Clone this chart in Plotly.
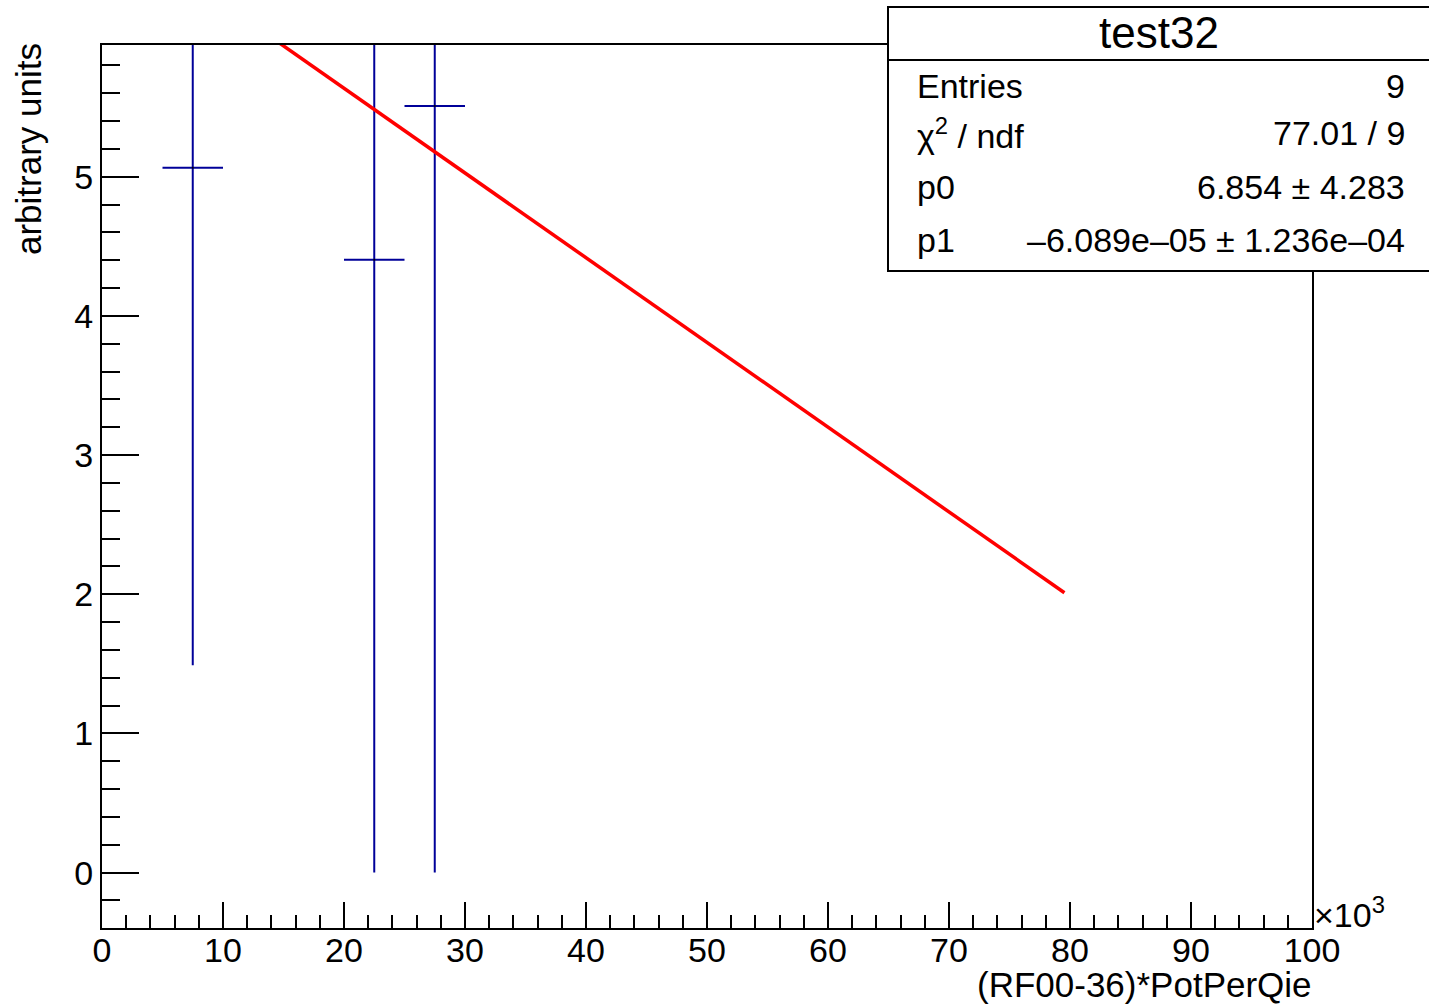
import plotly.graph_objects as go

# ---- data ----
bin_centers = [7500, 22500, 27500]
bin_halfwidth = [2500, 2500, 2500]
values = [5.065, 4.404, 5.509]
errors = [3.575, 4.404, 5.509]

fit_x = [0, 79540]
fit_y = [6.854, 2.011]

x_tickvals = [0, 10000, 20000, 30000, 40000, 50000, 60000, 70000, 80000, 90000, 100000]
x_ticktext = ["0", "10", "20", "30", "40", "50", "60", "70", "80", "90", "100"]
y_tickvals = [0, 1, 2, 3, 4, 5]
y_ticktext = ["0", "1", "2", "3", "4", "5"]

stats_title = "test32"
stats_labels = ["Entries", "χ<sup>2</sup> / ndf", "p0", "p1"]
stats_values = ["9", "77.01 / 9", "6.854 ± 4.283", "–6.089e–05 ± 1.236e–04"]

# ---- geometry (pixels) ----
W, H = 1429, 1007
L, R, T, B = 102, 117, 45, 79
PW, PH = W - L - R, H - T - B

def px(x):
    return (x - L) / PW

def py(y):
    return (H - B - y) / PH

FONT = "Liberation Sans, Arial, Helvetica, sans-serif"
BLUE = "#000099"

fig = go.Figure()

fig.add_trace(go.Scatter(
    x=bin_centers, y=values, mode="markers",
    marker=dict(size=2, color="black"),
    error_y=dict(type="data", array=errors, arrayminus=errors, symmetric=False,
                 width=0, thickness=2, color=BLUE),
    error_x=dict(type="data", array=bin_halfwidth, width=0, thickness=2, color=BLUE),
    showlegend=False, hoverinfo="skip",
))

fig.add_trace(go.Scatter(
    x=fit_x, y=fit_y, mode="lines",
    line=dict(color="#ff0000", width=3.5),
    showlegend=False, hoverinfo="skip",
))

axis_common = dict(
    showgrid=False, zeroline=False, showline=True, mirror=True,
    linecolor="black", linewidth=2, ticks="inside", tickcolor="black",
    tickwidth=1.5, tickfont=dict(family=FONT, size=34, color="black"),
)

fig.update_xaxes(
    range=[0, 100000], tickvals=x_tickvals, ticktext=x_ticktext, ticklen=26,
    ticklabelstandoff=-9,
    minor=dict(ticks="inside", ticklen=13, dtick=2000, tick0=0, tickcolor="black",
               tickwidth=1.5, showgrid=False),
    **axis_common,
)
fig.update_yaxes(
    range=[-0.398, 5.947], tickvals=y_tickvals, ticktext=y_ticktext, ticklen=37,
    minor=dict(ticks="inside", ticklen=18, dtick=0.2, tick0=0, tickcolor="black",
               tickwidth=1.5, showgrid=False),
    **axis_common,
)

shapes = [
    dict(type="rect", xref="paper", yref="paper",
         x0=px(888), x1=px(1432), y0=py(271), y1=py(7),
         line=dict(color="black", width=2), fillcolor="white", layer="above"),
    dict(type="line", xref="paper", yref="paper",
         x0=px(888), x1=px(1432), y0=py(60), y1=py(60),
         line=dict(color="black", width=2), layer="above"),
]

annotations = [
    dict(text=stats_title, x=px(1159), y=py(33), xref="paper", yref="paper",
         xanchor="center", yanchor="middle", showarrow=False,
         font=dict(family=FONT, size=44, color="black")),
    dict(text="arbitrary units", x=px(29), y=py(41), xref="paper", yref="paper",
         xanchor="center", yanchor="top", textangle=-90, showarrow=False,
         font=dict(family=FONT, size=35, color="black")),
    dict(text="(RF00-36)*PotPerQie", x=px(1314), y=py(985), xref="paper", yref="paper",
         xanchor="right", yanchor="middle", showarrow=False,
         font=dict(family=FONT, size=35, color="black")),
    dict(text="×10<sup>3</sup>", x=px(1312), y=py(936), xref="paper", yref="paper",
         xanchor="left", yanchor="bottom", showarrow=False,
         font=dict(family=FONT, size=34, color="black")),
]

row_centers = [86, 133, 187, 240]
for lab, val, yc in zip(stats_labels, stats_values, row_centers):
    annotations.append(dict(text=lab, x=px(915), y=py(yc), xref="paper", yref="paper",
                            xanchor="left", yanchor="middle", showarrow=False,
                            font=dict(family=FONT, size=34, color="black")))
    annotations.append(dict(text=val, x=px(1407), y=py(yc), xref="paper", yref="paper",
                            xanchor="right", yanchor="middle", showarrow=False,
                            font=dict(family=FONT, size=34, color="black")))

fig.update_layout(
    width=W, height=H,
    margin=dict(l=L, r=R, t=T, b=B, pad=0),
    paper_bgcolor="white", plot_bgcolor="white",
    shapes=shapes, annotations=annotations,
    font=dict(family=FONT, color="black"),
)

fig.write_html("out.html", config={"displayModeBar": False},
               post_script="document.body.style.margin='0';document.body.style.padding='0';")
